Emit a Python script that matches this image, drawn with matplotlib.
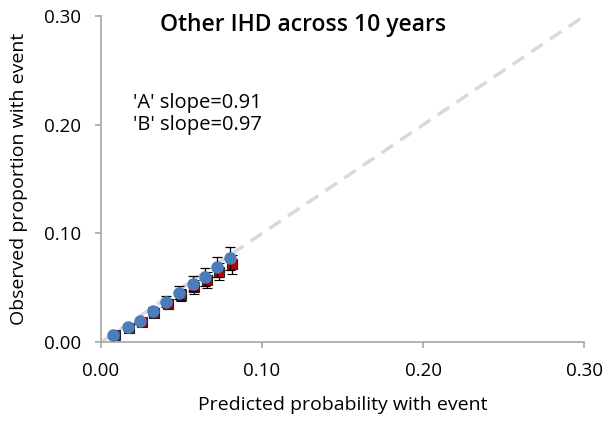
import matplotlib
matplotlib.use('Agg')
import matplotlib.pyplot as plt

plt.rcParams['font.family'] = ['Open Sans', 'DejaVu Sans']

# predicted vs observed, model A (red) and model B (blue)
pred_a = [0.0086, 0.0176, 0.0252, 0.0331, 0.0414, 0.0494, 0.0579, 0.0656, 0.0732, 0.0811]
obs_a = [0.0062, 0.0133, 0.0188, 0.0272, 0.0350, 0.0430, 0.0510, 0.0570, 0.0650, 0.0715]
err_a = [0.0015, 0.0020, 0.0028, 0.0035, 0.0045, 0.0055, 0.0065, 0.0072, 0.0082, 0.0090]
pred_b = [0.0076, 0.0166, 0.0242, 0.0321, 0.0404, 0.0484, 0.0569, 0.0646, 0.0722, 0.0801]
obs_b = [0.0064, 0.0141, 0.0196, 0.0288, 0.0371, 0.0457, 0.0540, 0.0600, 0.0693, 0.0770]
err_b = [0.0015, 0.0022, 0.0030, 0.0040, 0.0050, 0.0062, 0.0072, 0.0082, 0.0095, 0.0110]
ticks = [0.0, 0.1, 0.2, 0.3]

fig = plt.figure(figsize=(6.08, 4.23), dpi=100)
ax = fig.add_axes([0.166, 0.191, 0.795, 0.771])

ax.plot([0, 0.3], [0, 0.3], color='#d9d9d9', lw=2.5, ls=(0, (4, 2.5)), zorder=1)

ax.errorbar(pred_a, obs_a, yerr=err_a, fmt='s', color='#c00000', mec='#222222', mew=0.8,
            ms=6.5, ecolor='black', elinewidth=0.9, capsize=3.5, capthick=0.9, zorder=2)
ax.errorbar(pred_b, obs_b, yerr=err_b, fmt='o', color='#4a7ebb', mec='#4a7ebb',
            ms=8, ecolor='black', elinewidth=0.9, capsize=3.5, capthick=0.9, zorder=3)

ax.set_xlim(0, 0.3)
ax.set_ylim(0, 0.3)
ax.set_xticks(ticks)
ax.set_yticks(ticks)
ax.set_xticklabels(['%.2f' % t for t in ticks])
ax.set_yticklabels(['%.2f' % t for t in ticks])
for s in ['top', 'right']:
    ax.spines[s].set_visible(False)
for s in ['left', 'bottom']:
    ax.spines[s].set_color('#a6a6a6')
    ax.spines[s].set_linewidth(1.2)
ax.tick_params(colors='#a6a6a6', labelcolor='black', labelsize=13.5, length=4, width=1.2)
ax.tick_params(axis='x', pad=10)
ax.tick_params(axis='y', pad=10)

ax.set_xlabel('Predicted probability with event', fontsize=14, labelpad=12)
ax.set_ylabel('Observed proportion with event', fontsize=14, labelpad=12)

ax.text(0.1255, 0.2915, 'Other IHD across 10 years', fontsize=16.5, fontweight='semibold',
        ha='center', va='center')
ax.text(0.02, 0.2199, "'A' slope=0.91", fontsize=14.5, va='center')
ax.text(0.02, 0.1996, "'B' slope=0.97", fontsize=14.5, va='center')

fig.savefig('out.png', dpi=100)
